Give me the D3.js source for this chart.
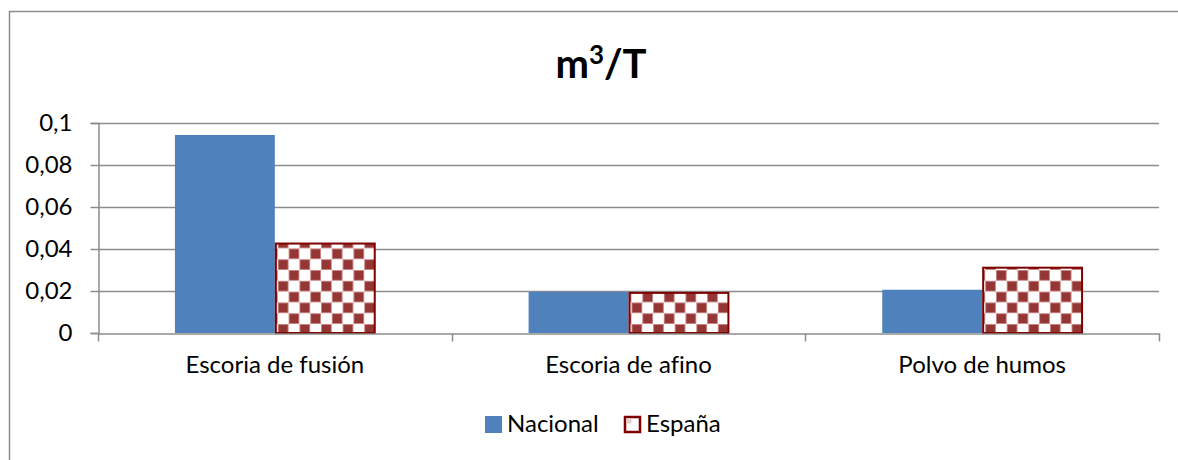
<!DOCTYPE html>
<html>
<head>
<meta charset="utf-8">
<script src="https://cdn.jsdelivr.net/npm/d3@7"></script>
<style>
  html, body { margin: 0; padding: 0; background: #fff; }
  svg { display: block; font-family: Lato, "Open Sans", sans-serif; }
  svg text { font-variant-ligatures: none; font-feature-settings: "liga" 0; }
</style>
</head>
<body>
<div id="chart"></div>
<script>
const categories = ["Escoria de fusión", "Escoria de afino", "Polvo de humos"];
const seriesNames = ["Nacional", "España"];
const nacional = [0.0943, 0.0196, 0.0206];
const espana = [0.0426, 0.0191, 0.0311];
const yTicks = [0, 0.02, 0.04, 0.06, 0.08, 0.1];
const yTickLabels = ["0", "0,02", "0,04", "0,06", "0,08", "0,1"];

const W = 1178, H = 460;
const plot = { left: 98, right: 1159, top: 123, bottom: 333 };
const labelFont = "Lato, 'Open Sans', sans-serif";
const labelSize = 24;

const svg = d3.select("#chart").append("svg")
  .attr("width", W).attr("height", H);

// patrón de cuadros
const defs = svg.append("defs");
const cell = 10.8;
const pat = defs.append("pattern")
  .attr("id", "checker")
  .attr("patternUnits", "userSpaceOnUse")
  .attr("width", cell * 2).attr("height", cell * 2)
  .attr("x", 277).attr("y", 0);
pat.append("rect").attr("width", cell * 2).attr("height", cell * 2).attr("fill", "#fff");
[[1, 0], [0, 1]].forEach(([i, j]) => {
  pat.append("rect")
    .attr("x", i * cell + 0.4).attr("y", j * cell + 0.4)
    .attr("width", cell - 0.8).attr("height", cell - 0.8)
    .attr("fill", "#943634")
    .attr("stroke", "#c98584").attr("stroke-width", 0.8);
});

// borde exterior
svg.append("rect")
  .attr("x", 9.5).attr("y", 11.5)
  .attr("width", W + 20).attr("height", H + 20)
  .attr("fill", "none").attr("stroke", "#8c8c8c").attr("stroke-width", 1.5);

// título
const title = svg.append("text")
  .attr("x", 601).attr("y", 78)
  .attr("text-anchor", "middle")
  .attr("font-size", 40).attr("font-weight", "bold")
  .attr("font-family", labelFont)
  .attr("fill", "#000");
title.append("tspan").text("m");
title.append("tspan").attr("font-size", 26).attr("dy", -14).text("3");
title.append("tspan").attr("dy", 14).text("/T");

const x = d3.scaleBand().domain(categories).range([plot.left, plot.right]);
const inner = d3.scaleBand().domain(seriesNames).range([0, x.bandwidth()]).paddingInner(0).paddingOuter(0.77);
const y = d3.scaleLinear().domain([0, 0.1]).range([plot.bottom, plot.top]);

// líneas de cuadrícula
svg.append("g").selectAll("line").data(yTicks.slice(1)).join("line")
  .attr("x1", plot.left).attr("x2", plot.right)
  .attr("y1", d => Math.round(y(d)) + 0.5).attr("y2", d => Math.round(y(d)) + 0.5)
  .attr("stroke", "#8c8c8c").attr("stroke-width", 1.5);

// eje Y
const yAxis = svg.append("g")
  .attr("transform", `translate(${plot.left + 0.5},0)`)
  .call(d3.axisLeft(y).tickValues(yTicks).tickSize(8).tickPadding(18)
    .tickFormat((d, i) => yTickLabels[i]));
yAxis.select(".domain").attr("stroke", "#8c8c8c").attr("stroke-width", 1.5);
yAxis.selectAll(".tick line").attr("stroke", "#8c8c8c").attr("stroke-width", 1.5);
yAxis.selectAll(".tick text")
  .attr("font-size", labelSize).attr("fill", "#000")
  .attr("font-family", labelFont);

// barras
const rows = categories.map((c, i) => ({ cat: c, vals: [nacional[i], espana[i]] }));
const groups = svg.append("g").selectAll("g").data(rows).join("g")
  .attr("transform", d => `translate(${x(d.cat)},0)`);

groups.selectAll("rect").data(d => d.vals.map((v, i) => ({ name: seriesNames[i], v })))
  .join("rect")
  .attr("x", d => inner(d.name) + (d.name === "España" ? 1 : 0))
  .attr("y", d => y(d.v))
  .attr("width", d => inner.bandwidth() - (d.name === "España" ? 1 : 0))
  .attr("height", d => y(0) - y(d.v))
  .attr("fill", d => d.name === "Nacional" ? "#4f81bd" : "url(#checker)")
  .attr("stroke", d => d.name === "España" ? "#7f0000" : "none")
  .attr("stroke-width", 2);

// eje X
const xAxis = svg.append("g")
  .attr("transform", `translate(0,${plot.bottom + 0.5})`)
  .call(d3.axisBottom(x).tickSize(0).tickPadding(22));
xAxis.select(".domain").attr("stroke", "#8c8c8c").attr("stroke-width", 1.5);
xAxis.selectAll(".tick text")
  .attr("font-size", labelSize).attr("fill", "#000")
  .attr("font-family", labelFont);
const bounds = [plot.left, ...categories.map(c => x(c) + x.bandwidth())];
xAxis.append("g").selectAll("line").data(bounds).join("line")
  .attr("x1", d => Math.round(d) + 0.5).attr("x2", d => Math.round(d) + 0.5)
  .attr("y1", 0).attr("y2", 8)
  .attr("stroke", "#8c8c8c").attr("stroke-width", 1.5);

// leyenda
const legend = svg.append("g").attr("transform", "translate(485,424)");
const legItems = [
  { name: seriesNames[0], x: 0, tx: 22 },
  { name: seriesNames[1], x: 139, tx: 161 }
];
legItems.forEach(it => {
  if (it.name === "Nacional") {
    legend.append("rect").attr("x", it.x).attr("y", -8).attr("width", 17).attr("height", 17)
      .attr("fill", "#4f81bd");
  } else {
    legend.append("rect").attr("x", it.x + 1).attr("y", -7).attr("width", 15).attr("height", 15)
      .attr("fill", "#fff").attr("stroke", "#7f0000").attr("stroke-width", 2.5);
    legend.append("rect").attr("x", it.x + 2.5).attr("y", -5.5).attr("width", 5).attr("height", 5)
      .attr("fill", "#e8cfcf");
  }
  legend.append("text").attr("x", it.tx).attr("y", 0).attr("dy", "0.35em")
    .attr("font-size", labelSize).attr("font-family", labelFont)
    .attr("fill", "#000").text(it.name);
});
</script>
</body>
</html>
